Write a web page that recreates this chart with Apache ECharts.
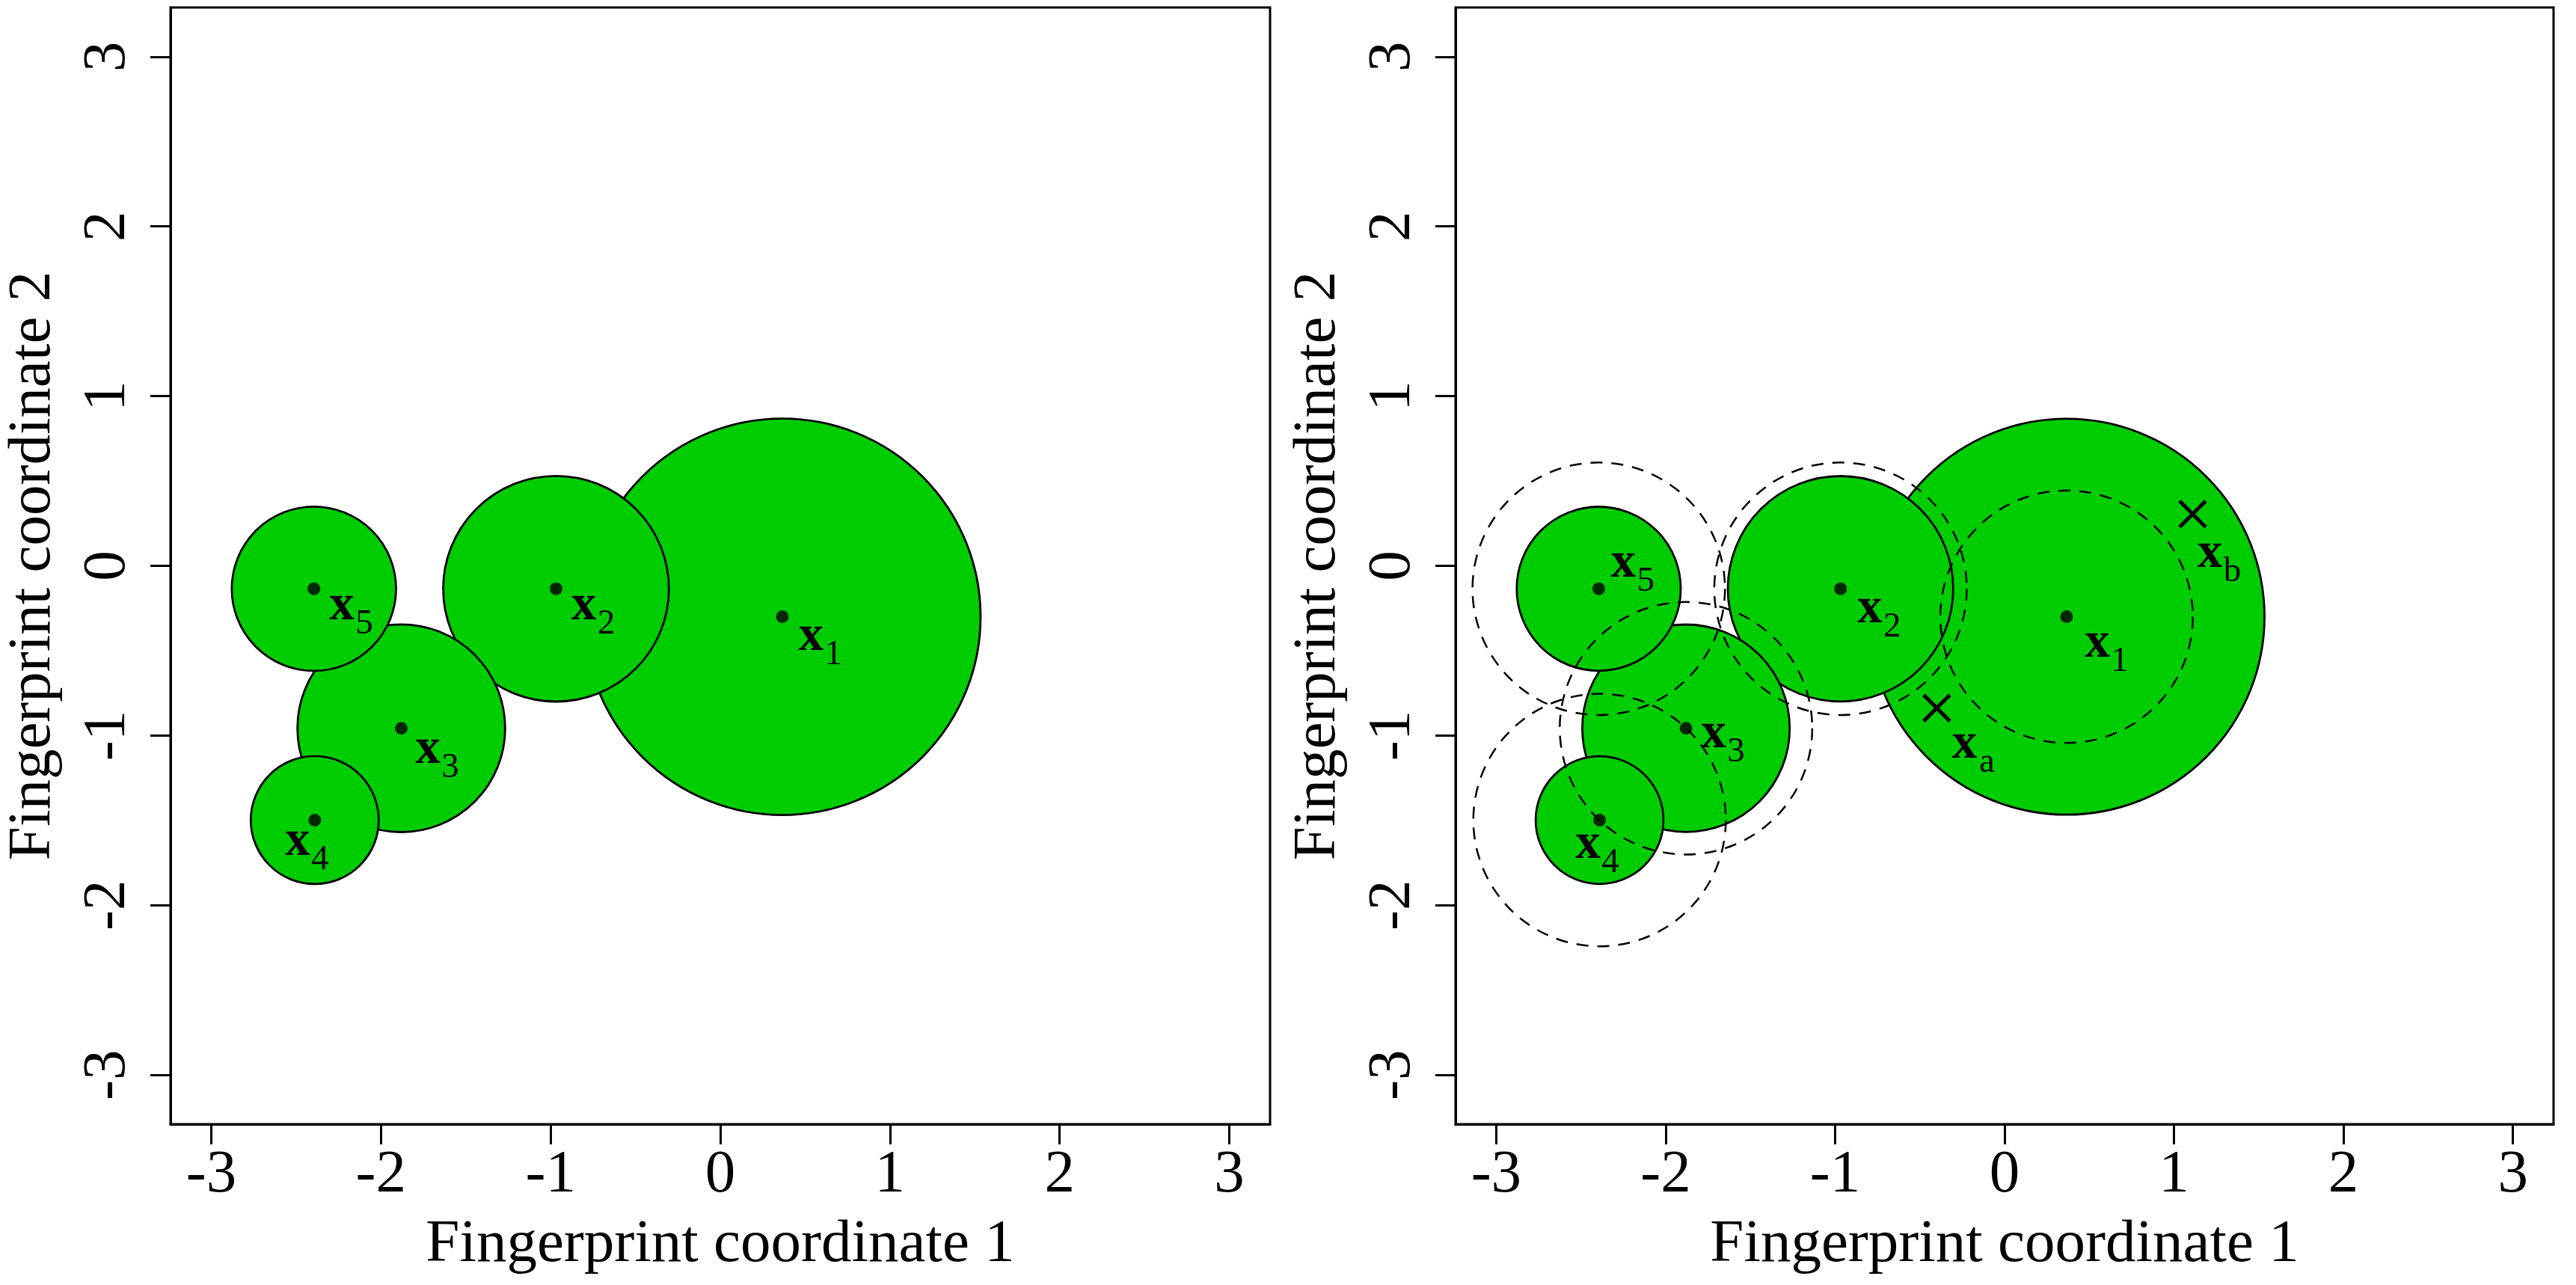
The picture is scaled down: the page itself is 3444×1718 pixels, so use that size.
<!DOCTYPE html>
<html lang="en">
<head>
    <meta charset="UTF-8">
    <title>Fingerprint coordinates</title>
    <style>
        html, body { margin: 0; padding: 0; background: #fff; }
        #chart { width: 3444px; height: 1718px; }
    </style>
</head>
<body>
    <div id="chart"></div>
</body>
</html>
<script src="https://cdn.jsdelivr.net/npm/echarts@6/dist/echarts.min.js"></script>
<script type="text/javascript">
    // axis ticks
    const tickValues = [-3, -2, -1, 0, 1, 2, 3];

    // fingerprint points x1..x5
    const pointIds = ['1', '2', '3', '4', '5'];
    const pointX = [0.366, -0.968, -1.880, -2.390, -2.395];
    const pointY = [-0.300, -0.135, -0.957, -1.498, -0.135];
    const ballRadius = [1.168, 0.665, 0.612, 0.377, 0.484];
    const dashedRadius = [0.745, 0.745, 0.745, 0.745, 0.745];

    // label positions (centre of the bold x)
    const leftLabelX = [0.535, -0.804, -1.724, -2.492, -2.231];
    const leftLabelY = [-0.455, -0.275, -1.122, -1.662, -0.275];
    const rightLabelX = [0.547, -0.796, -1.717, -2.459, -2.250];
    const rightLabelY = [-0.495, -0.290, -1.026, -1.678, -0.024];

    // query points xa, xb
    const queryIds = ['a', 'b'];
    const queryX = [-0.400, 1.110];
    const queryY = [-0.838, 0.305];
    const queryLabelX = [-0.236, 1.212];
    const queryLabelY = [-1.090, 0.035];

    const GREEN = '#00cd00';
    const FONT = '"Liberation Serif", "Times New Roman", serif';

    const chart = echarts.init(document.getElementById('chart'));

    function xAxisFor(i) {
        return {
            gridIndex: i,
            type: 'value',
            min: -3.24,
            max: 3.24,
            axisLine: {show: true, onZero: false, lineStyle: {color: '#000', width: 3}},
            axisTick: {show: true, length: 27, customValues: tickValues, lineStyle: {color: '#000', width: 3}},
            axisLabel: {customValues: tickValues, color: '#000', fontSize: 81, fontFamily: FONT, margin: 28},
            splitLine: {show: false},
            name: 'Fingerprint coordinate 1',
            nameLocation: 'middle',
            nameGap: 121,
            nameTextStyle: {color: '#000', fontSize: 81, fontFamily: FONT}
        };
    }

    function yAxisFor(i) {
        return {
            gridIndex: i,
            type: 'value',
            min: -3.29,
            max: 3.29,
            axisLine: {show: true, onZero: false, lineStyle: {color: '#000', width: 3}},
            axisTick: {show: true, length: 27, customValues: tickValues, lineStyle: {color: '#000', width: 3}},
            axisLabel: {customValues: tickValues, color: '#000', fontSize: 81, fontFamily: FONT, margin: 43, rotate: 90},
            splitLine: {show: false},
            name: 'Fingerprint coordinate 2',
            nameLocation: 'middle',
            nameRotate: 90,
            nameGap: 143,
            nameTextStyle: {color: '#000', fontSize: 81, fontFamily: FONT}
        };
    }

    function circleSeries(i, radii, dashed) {
        return {
            type: 'custom',
            xAxisIndex: i,
            yAxisIndex: i,
            silent: true,
            data: pointX.map((x, k) => [x, pointY[k], radii[k]]),
            renderItem: (params, api) => {
                const c = api.coord([api.value(0), api.value(1)]);
                const r = api.size([api.value(2), 0])[0];
                return {
                    type: 'circle',
                    shape: {cx: c[0], cy: c[1], r: r},
                    style: dashed
                        ? {fill: null, stroke: '#000', lineWidth: 2.5, lineDash: [16, 12]}
                        : {fill: GREEN, stroke: '#000', lineWidth: 2.8}
                };
            }
        };
    }

    function dotSeries(i) {
        return {
            type: 'scatter',
            xAxisIndex: i,
            yAxisIndex: i,
            silent: true,
            symbol: 'circle',
            symbolSize: 17,
            itemStyle: {color: '#000'},
            data: pointX.map((x, k) => [x, pointY[k]])
        };
    }

    function labelSeries(i, xs, ys, subs) {
        return {
            type: 'custom',
            xAxisIndex: i,
            yAxisIndex: i,
            silent: true,
            data: xs.map((x, k) => [x, ys[k]]),
            renderItem: (params, api) => {
                const c = api.coord([api.value(0), api.value(1)]);
                return {
                    type: 'group',
                    children: [
                        {type: 'text', style: {text: 'x', x: c[0], y: c[1] - 8, fill: '#000',
                            font: 'bold 67px ' + FONT, textAlign: 'center', textVerticalAlign: 'middle'}},
                        {type: 'text', style: {text: subs[params.dataIndex], x: c[0] + 30, y: c[1] + 16, fill: '#000',
                            font: '47px ' + FONT, textAlign: 'center', textVerticalAlign: 'middle'}}
                    ]
                };
            }
        };
    }

    const crossSeries = {
        type: 'custom',
        xAxisIndex: 1,
        yAxisIndex: 1,
        silent: true,
        data: queryX.map((x, k) => [x, queryY[k]]),
        renderItem: (params, api) => {
            const c = api.coord([api.value(0), api.value(1)]);
            const h = 17.5;
            const st = {stroke: '#000', lineWidth: 5};
            return {
                type: 'group',
                children: [
                    {type: 'line', shape: {x1: c[0] - h, y1: c[1] - h, x2: c[0] + h, y2: c[1] + h}, style: st},
                    {type: 'line', shape: {x1: c[0] - h, y1: c[1] + h, x2: c[0] + h, y2: c[1] - h}, style: st}
                ]
            };
        }
    };

    const gridStyle = {show: true, borderColor: '#000', borderWidth: 3, backgroundColor: '#fff', outerBoundsMode: 'none'};

    chart.setOption({
        animation: false,
        backgroundColor: '#fff',
        grid: [
            Object.assign({left: 228, top: 10, width: 1470, height: 1493}, gridStyle),
            Object.assign({left: 1946, top: 10, width: 1468, height: 1493}, gridStyle)
        ],
        xAxis: [xAxisFor(0), xAxisFor(1)],
        yAxis: [yAxisFor(0), yAxisFor(1)],
        series: [
            circleSeries(0, ballRadius, false),
            dotSeries(0),
            labelSeries(0, leftLabelX, leftLabelY, pointIds),

            circleSeries(1, ballRadius, false),
            circleSeries(1, dashedRadius, true),
            dotSeries(1),
            crossSeries,
            labelSeries(1, rightLabelX, rightLabelY, pointIds),
            labelSeries(1, queryLabelX, queryLabelY, queryIds)
        ]
    });
</script>
